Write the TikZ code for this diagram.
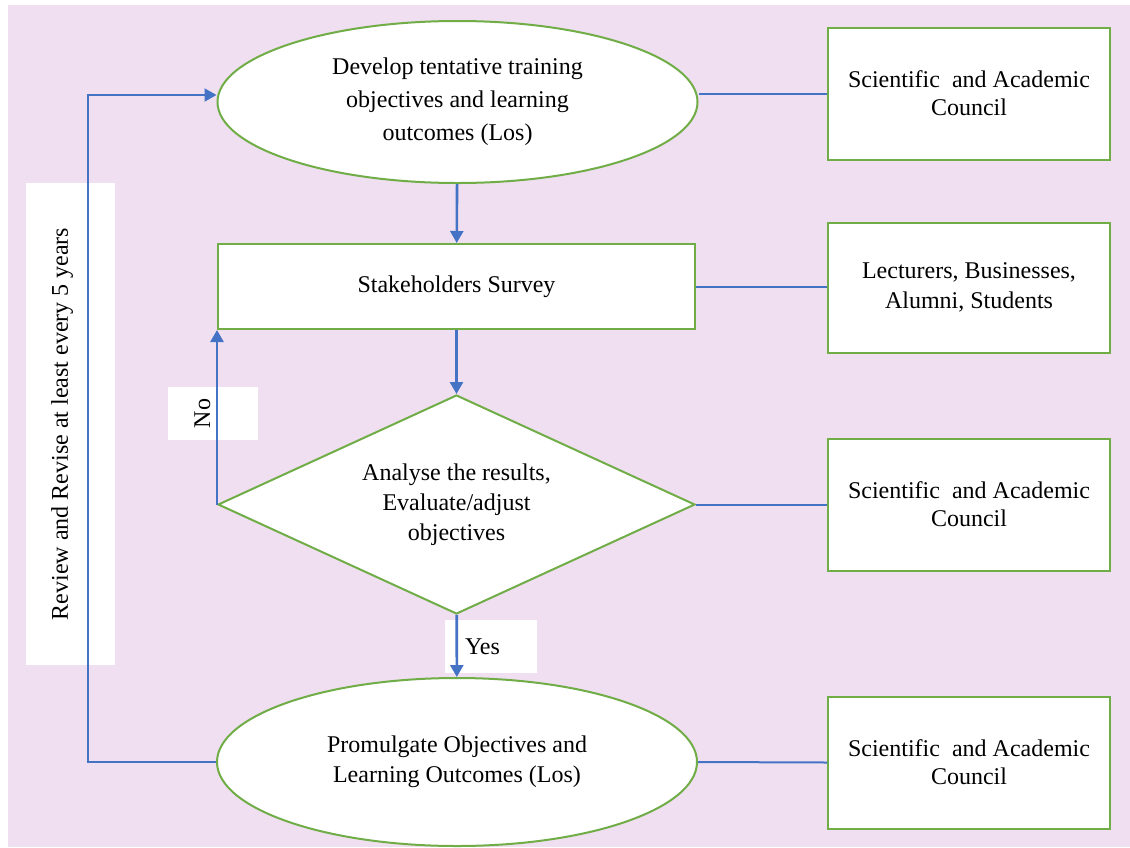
\documentclass[tikz,border=0pt]{standalone}
\usepackage{fontspec}
\setmainfont{Liberation Serif}
\usetikzlibrary{shapes.geometric, positioning, arrows.meta}
\definecolor{pinkbg}{RGB}{240,223,240}
\definecolor{boxgreen}{RGB}{112,173,71}
\definecolor{lineblue}{RGB}{68,114,196}
\tikzset{>={Triangle[length=6pt, width=6.5pt]},
  every node/.style={font=\fontsize{12}{15}\selectfont, align=center},
  stage/.style={ellipse, draw=boxgreen, line width=1pt, fill=white, minimum width=240pt, minimum height=81pt, inner sep=0pt},
  task/.style={rectangle, draw=boxgreen, line width=1pt, fill=white, minimum width=238.5pt, minimum height=42.5pt},
  decision/.style={diamond, aspect=2.18, draw=boxgreen, line width=1pt, fill=white, minimum width=238.5pt, minimum height=109.5pt, inner sep=0pt},
  party/.style={rectangle, draw=boxgreen, line width=1pt, fill=white, minimum width=141pt, minimum height=66pt, font=\fontsize{12}{14}\selectfont},
  tag/.style={fill=white, inner sep=0pt},
  flow/.style={->, draw=lineblue, line width=1.3pt},
  link/.style={draw=lineblue, line width=1pt}}

\begin{document}
\begin{tikzpicture}[x=0.5pt, y=-0.5pt]
    \useasboundingbox (0,0) rectangle (1130,847);
    \fill[pinkbg] (8,5) rectangle (1130,847);

    \node[stage, font=\fontsize{12}{16.5}\selectfont] (dev) at (457.5,102) {Develop tentative training\\objectives and learning\\outcomes (Los)};
    \node[task] (survey) at (456.5,286.5) {Stakeholders Survey};
    \node[decision] (analyse) at (456.5,504.5) {Analyse the results,\\Evaluate/adjust\\objectives};
    \node[stage, minimum height=84pt] (prom) at (457,762) {Promulgate Objectives and\\Learning Outcomes (Los)};

    \node[party] (sac1) at (969,93.5) {Scientific\ \ and Academic\\Council};
    \node[party, minimum height=65pt, font=\fontsize{12}{15}\selectfont] (lbas) at (969,287.5) {Lecturers, Businesses,\\Alumni, Students};
    \node[party] (sac2) at (969,504.5) {Scientific\ \ and Academic\\Council};
    \node[party] (sac3) at (969,762.5) {Scientific\ \ and Academic\\Council};

    \node[tag, rotate=90, minimum width=241pt, text height=21pt, text depth=23.5pt] (review) at (70.5,424) {Review and Revise at least every 5 years};
    \node[tag, rotate=90, minimum width=26.5pt, text height=21pt, text depth=24pt] (no) at (213,413.5) {No};
    \node[tag, minimum height=26.5pt, inner xsep=10pt, text width=26pt, align=left] (yes) at (491,646.5) {Yes};
    \coordinate (back) at (88,95);

    \draw[flow] (dev) -- (survey);
    \draw[flow] (survey) -- (analyse);
    \draw[flow] (analyse.west) -- (survey.south west);
    \draw[flow] (analyse) -- (prom);
    \draw[flow, line width=1pt] (prom.west) -| (back) -- (back -| dev.west);

    \draw[link] (sac1.west) -- (sac1.west -| dev.east);
    \draw[link] (survey.east) -- (survey.east -| lbas.west);
    \draw[link] (analyse.east) -- (sac2.west);
    \draw[link] (prom.east) -- (sac3.west);
\end{tikzpicture}
\end{document}
